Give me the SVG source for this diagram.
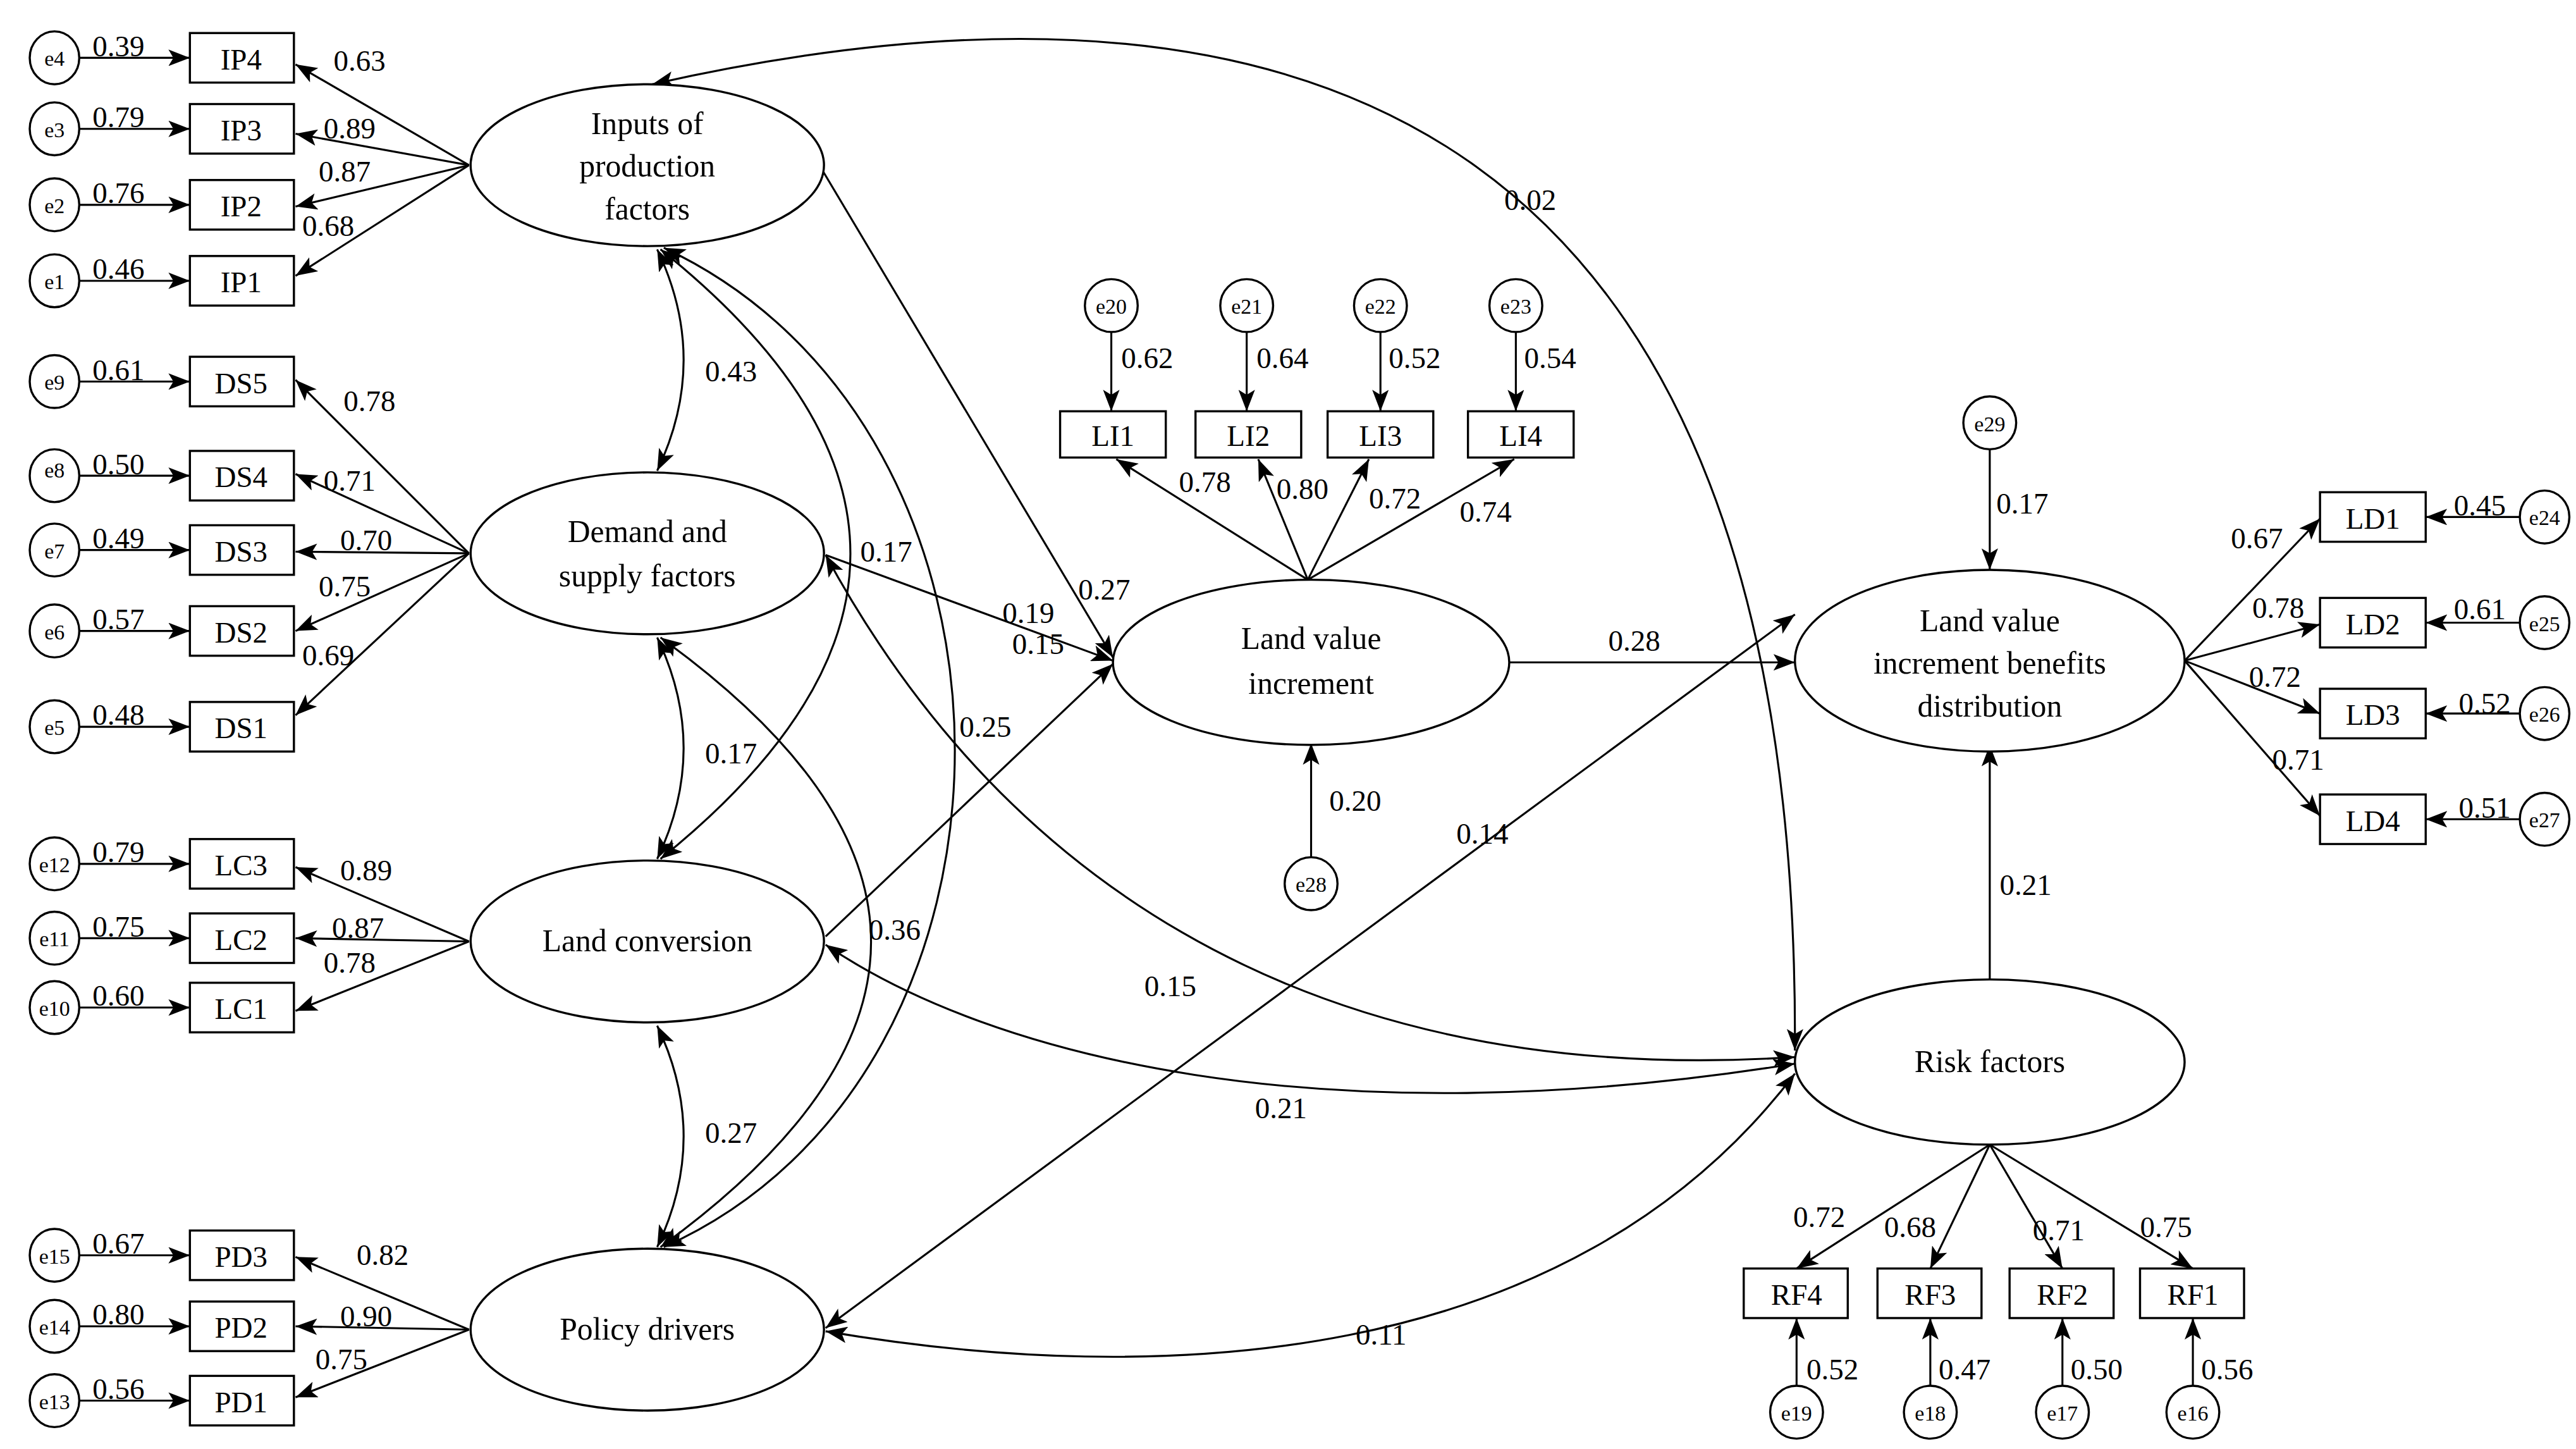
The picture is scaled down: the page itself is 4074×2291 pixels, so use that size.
<svg xmlns="http://www.w3.org/2000/svg" width="4074" height="2291" viewBox="0 0 4074 2291">
<style>
.l{fill:none;stroke:#000;stroke-width:1.2}
.a{fill:none;stroke:#000;stroke-width:1.2;marker-end:url(#ah)}
.b{fill:none;stroke:#000;stroke-width:1.2;marker-start:url(#ah);marker-end:url(#ah)}
.s{fill:#fff;stroke:#000;stroke-width:1.3}
text{font-family:"Liberation Serif","DejaVu Serif",serif;fill:#000}
.t{font-size:19px;text-anchor:middle}
.n{font-size:18px}
.m{font-size:18px;text-anchor:middle}
.e{font-size:13px;text-anchor:middle}
</style>
<defs>
<marker id="ah" markerUnits="userSpaceOnUse" markerWidth="14" markerHeight="10" refX="13" refY="5" orient="auto-start-reverse" viewBox="0 0 14 10"><path d="M0,0 L13,5 L0,10 L3,5 z" fill="#000"/></marker>
</defs>
<rect width="4074" height="2291" fill="#fff"/>
<g transform="scale(2.6115)">
<g id="connectors">
<path class="a" d="M48,35H115"/><path class="a" d="M48,78H115"/><path class="a" d="M48,124H115"/><path class="a" d="M48,170H115"/>
<path class="a" d="M48,231H115"/><path class="a" d="M48,288H115"/><path class="a" d="M48,333H115"/><path class="a" d="M48,382H115"/><path class="a" d="M48,440H115"/>
<path class="a" d="M48,523H115"/><path class="a" d="M48,568H115"/><path class="a" d="M48,610H115"/>
<path class="a" d="M48,760H115"/><path class="a" d="M48,803H115"/><path class="a" d="M48,848H115"/>
<path class="a" d="M284,100L179,39"/><path class="a" d="M284,100L179,81"/><path class="a" d="M284,100L179,125"/><path class="a" d="M284,100L179,167"/>
<path class="a" d="M284,335L179,230"/><path class="a" d="M284,335L179,287"/><path class="a" d="M284,335L179,334"/><path class="a" d="M284,335L179,382"/><path class="a" d="M284,335L179,433"/>
<path class="a" d="M284,570L179,525"/><path class="a" d="M284,570L179,568"/><path class="a" d="M284,570L179,612"/>
<path class="a" d="M284,805L179,761"/><path class="a" d="M284,805L179,803"/><path class="a" d="M284,805L179,846"/>
<path class="b" d="M398,151Q430,218 398,285"/>
<path class="b" d="M398,386Q430,453 398,520"/>
<path class="b" d="M398,621Q430,688 398,755"/>
<path class="b" d="M400,151Q630,335 400,520"/>
<path class="b" d="M400,386Q655,570 400,755"/>
<path class="b" d="M402,150C637,260 637,650 402,755"/>
<path class="b" d="M395,51C800,-40 1090,80 1087,636"/>
<path class="b" d="M500,336C600,520 780,660 1087,640"/>
<path class="b" d="M500,572C600,640 800,690 1087,644"/>
<path class="b" d="M500,806C700,840 950,830 1087,650"/>
<path class="b" d="M500,804L1087,372"/>
<path class="a" d="M498,103L674,398"/><path class="a" d="M500,336L674,400"/><path class="a" d="M500,567L674,402"/>
<path class="a" d="M914,401L1087,401"/>
<path class="a" d="M673,201V249"/><path class="a" d="M755,201V249"/><path class="a" d="M836,201V249"/><path class="a" d="M918,201V249"/>
<path class="a" d="M792,351L676,278"/><path class="a" d="M792,351L762,278"/><path class="a" d="M792,351L829,278"/><path class="a" d="M792,351L917,278"/>
<path class="a" d="M794,519V450"/>
<path class="a" d="M1205,272V345"/>
<path class="a" d="M1205,593V451"/>
<path class="a" d="M1323,400L1405,314"/><path class="a" d="M1323,400L1405,378"/><path class="a" d="M1323,400L1405,432"/><path class="a" d="M1323,400L1405,494"/>
<path class="a" d="M1526,313H1469"/><path class="a" d="M1526,377H1469"/><path class="a" d="M1526,432H1469"/><path class="a" d="M1526,496H1469"/>
<path class="a" d="M1205,693L1088,768"/><path class="a" d="M1205,693L1169,768"/><path class="a" d="M1205,693L1249,768"/><path class="a" d="M1205,693L1328,768"/>
<path class="a" d="M1088,839V798"/><path class="a" d="M1169,839V798"/><path class="a" d="M1249,839V798"/><path class="a" d="M1328,839V798"/>
</g>
<g id="labels">
<text class="n" x="56" y="34">0.39</text><text class="n" x="56" y="77">0.79</text><text class="n" x="56" y="123">0.76</text><text class="n" x="56" y="169">0.46</text>
<text class="n" x="56" y="230">0.61</text><text class="n" x="56" y="287">0.50</text><text class="n" x="56" y="332">0.49</text><text class="n" x="56" y="381">0.57</text><text class="n" x="56" y="439">0.48</text>
<text class="n" x="56" y="522">0.79</text><text class="n" x="56" y="567">0.75</text><text class="n" x="56" y="609">0.60</text>
<text class="n" x="56" y="759">0.67</text><text class="n" x="56" y="802">0.80</text><text class="n" x="56" y="847">0.56</text>
<text class="n" x="202" y="43">0.63</text><text class="n" x="196" y="84">0.89</text><text class="n" x="193" y="110">0.87</text><text class="n" x="183" y="143">0.68</text>
<text class="n" x="208" y="249">0.78</text><text class="n" x="196" y="297">0.71</text><text class="n" x="206" y="333">0.70</text><text class="n" x="193" y="361">0.75</text><text class="n" x="183" y="403">0.69</text>
<text class="n" x="206" y="533">0.89</text><text class="n" x="201" y="568">0.87</text><text class="n" x="196" y="589">0.78</text>
<text class="n" x="216" y="766">0.82</text><text class="n" x="206" y="803">0.90</text><text class="n" x="191" y="829">0.75</text>
<text class="n" x="427" y="231">0.43</text><text class="n" x="427" y="462">0.17</text><text class="n" x="427" y="692">0.27</text>
<text class="n" x="521" y="340">0.17</text><text class="n" x="581" y="446">0.25</text><text class="n" x="526" y="569">0.36</text>
<text class="n" x="607" y="377">0.19</text><text class="n" x="653" y="363">0.27</text><text class="n" x="613" y="396">0.15</text>
<text class="n" x="693" y="603">0.15</text><text class="n" x="760" y="677">0.21</text><text class="n" x="821" y="814">0.11</text>
<text class="n" x="882" y="511">0.14</text><text class="n" x="911" y="127">0.02</text><text class="n" x="974" y="394">0.28</text>
<text class="n" x="679" y="223">0.62</text><text class="n" x="761" y="223">0.64</text><text class="n" x="841" y="223">0.52</text><text class="n" x="923" y="223">0.54</text>
<text class="n" x="714" y="298">0.78</text><text class="n" x="773" y="302">0.80</text><text class="n" x="829" y="308">0.72</text><text class="n" x="884" y="316">0.74</text>
<text class="n" x="805" y="491">0.20</text><text class="n" x="1209" y="311">0.17</text><text class="n" x="1211" y="542">0.21</text>
<text class="n" x="1351" y="332">0.67</text><text class="n" x="1364" y="374">0.78</text><text class="n" x="1362" y="416">0.72</text><text class="n" x="1376" y="466">0.71</text>
<text class="n" x="1486" y="312">0.45</text><text class="n" x="1486" y="375">0.61</text><text class="n" x="1489" y="432">0.52</text><text class="n" x="1489" y="495">0.51</text>
<text class="n" x="1086" y="743">0.72</text><text class="n" x="1141" y="749">0.68</text><text class="n" x="1231" y="751">0.71</text><text class="n" x="1296" y="749">0.75</text>
<text class="n" x="1094" y="835">0.52</text><text class="n" x="1174" y="835">0.47</text><text class="n" x="1254" y="835">0.50</text><text class="n" x="1333" y="835">0.56</text>
</g>
<g id="errors">
<g id="e4"><ellipse class="s" cx="33" cy="35" rx="15" ry="16"/><text class="e" x="33" y="40">e4</text></g>
<g id="e3"><ellipse class="s" cx="33" cy="78" rx="15" ry="16"/><text class="e" x="33" y="83">e3</text></g>
<g id="e2"><ellipse class="s" cx="33" cy="124" rx="15" ry="16"/><text class="e" x="33" y="129">e2</text></g>
<g id="e1"><ellipse class="s" cx="33" cy="170" rx="15" ry="16"/><text class="e" x="33" y="175">e1</text></g>
<g id="e9"><ellipse class="s" cx="33" cy="231" rx="15" ry="16"/><text class="e" x="33" y="236">e9</text></g>
<g id="e8"><ellipse class="s" cx="33" cy="288" rx="15" ry="16"/><text class="e" x="33" y="289">e8</text></g>
<g id="e7"><ellipse class="s" cx="33" cy="333" rx="15" ry="16"/><text class="e" x="33" y="338">e7</text></g>
<g id="e6"><ellipse class="s" cx="33" cy="382" rx="15" ry="16"/><text class="e" x="33" y="387">e6</text></g>
<g id="e5"><ellipse class="s" cx="33" cy="440" rx="15" ry="16"/><text class="e" x="33" y="445">e5</text></g>
<g id="e12"><ellipse class="s" cx="33" cy="523" rx="15" ry="16"/><text class="e" x="33" y="528">e12</text></g>
<g id="e11"><ellipse class="s" cx="33" cy="568" rx="15" ry="16"/><text class="e" x="33" y="573">e11</text></g>
<g id="e10"><ellipse class="s" cx="33" cy="610" rx="15" ry="16"/><text class="e" x="33" y="615">e10</text></g>
<g id="e15"><ellipse class="s" cx="33" cy="760" rx="15" ry="16"/><text class="e" x="33" y="765">e15</text></g>
<g id="e14"><ellipse class="s" cx="33" cy="803" rx="15" ry="16"/><text class="e" x="33" y="808">e14</text></g>
<g id="e13"><ellipse class="s" cx="33" cy="848" rx="15" ry="16"/><text class="e" x="33" y="853">e13</text></g>
<g id="e20"><ellipse class="s" cx="673" cy="185" rx="16" ry="16"/><text class="e" x="673" y="190">e20</text></g>
<g id="e21"><ellipse class="s" cx="755" cy="185" rx="16" ry="16"/><text class="e" x="755" y="190">e21</text></g>
<g id="e22"><ellipse class="s" cx="836" cy="185" rx="16" ry="16"/><text class="e" x="836" y="190">e22</text></g>
<g id="e23"><ellipse class="s" cx="918" cy="185" rx="16" ry="16"/><text class="e" x="918" y="190">e23</text></g>
<g id="e28"><ellipse class="s" cx="794" cy="535" rx="16" ry="16"/><text class="e" x="794" y="540">e28</text></g>
<g id="e29"><ellipse class="s" cx="1205" cy="256" rx="16" ry="16"/><text class="e" x="1205" y="261">e29</text></g>
<g id="e24"><ellipse class="s" cx="1541" cy="313" rx="15" ry="16"/><text class="e" x="1541" y="318">e24</text></g>
<g id="e25"><ellipse class="s" cx="1541" cy="377" rx="15" ry="16"/><text class="e" x="1541" y="382">e25</text></g>
<g id="e26"><ellipse class="s" cx="1541" cy="432" rx="15" ry="16"/><text class="e" x="1541" y="437">e26</text></g>
<g id="e27"><ellipse class="s" cx="1541" cy="496" rx="15" ry="16"/><text class="e" x="1541" y="501">e27</text></g>
<g id="e19"><ellipse class="s" cx="1088" cy="855" rx="16" ry="16"/><text class="e" x="1088" y="860">e19</text></g>
<g id="e18"><ellipse class="s" cx="1169" cy="855" rx="16" ry="16"/><text class="e" x="1169" y="860">e18</text></g>
<g id="e17"><ellipse class="s" cx="1249" cy="855" rx="16" ry="16"/><text class="e" x="1249" y="860">e17</text></g>
<g id="e16"><ellipse class="s" cx="1328" cy="855" rx="16" ry="16"/><text class="e" x="1328" y="860">e16</text></g>
</g>
<g id="indicators">
<g id="IP4"><rect class="s" x="115" y="20" width="63" height="30"/><text class="m" x="146" y="42">IP4</text></g>
<g id="IP3"><rect class="s" x="115" y="63" width="63" height="30"/><text class="m" x="146" y="85">IP3</text></g>
<g id="IP2"><rect class="s" x="115" y="109" width="63" height="30"/><text class="m" x="146" y="131">IP2</text></g>
<g id="IP1"><rect class="s" x="115" y="155" width="63" height="30"/><text class="m" x="146" y="177">IP1</text></g>
<g id="DS5"><rect class="s" x="115" y="216" width="63" height="30"/><text class="m" x="146" y="238">DS5</text></g>
<g id="DS4"><rect class="s" x="115" y="273" width="63" height="30"/><text class="m" x="146" y="295">DS4</text></g>
<g id="DS3"><rect class="s" x="115" y="318" width="63" height="30"/><text class="m" x="146" y="340">DS3</text></g>
<g id="DS2"><rect class="s" x="115" y="367" width="63" height="30"/><text class="m" x="146" y="389">DS2</text></g>
<g id="DS1"><rect class="s" x="115" y="425" width="63" height="30"/><text class="m" x="146" y="447">DS1</text></g>
<g id="LC3"><rect class="s" x="115" y="508" width="63" height="30"/><text class="m" x="146" y="530">LC3</text></g>
<g id="LC2"><rect class="s" x="115" y="553" width="63" height="30"/><text class="m" x="146" y="575">LC2</text></g>
<g id="LC1"><rect class="s" x="115" y="595" width="63" height="30"/><text class="m" x="146" y="617">LC1</text></g>
<g id="PD3"><rect class="s" x="115" y="745" width="63" height="30"/><text class="m" x="146" y="767">PD3</text></g>
<g id="PD2"><rect class="s" x="115" y="788" width="63" height="30"/><text class="m" x="146" y="810">PD2</text></g>
<g id="PD1"><rect class="s" x="115" y="833" width="63" height="30"/><text class="m" x="146" y="855">PD1</text></g>
<g id="LI1"><rect class="s" x="642" y="249" width="64" height="28"/><text class="m" x="674" y="270">LI1</text></g>
<g id="LI2"><rect class="s" x="724" y="249" width="64" height="28"/><text class="m" x="756" y="270">LI2</text></g>
<g id="LI3"><rect class="s" x="804" y="249" width="64" height="28"/><text class="m" x="836" y="270">LI3</text></g>
<g id="LI4"><rect class="s" x="889" y="249" width="64" height="28"/><text class="m" x="921" y="270">LI4</text></g>
<g id="LD1"><rect class="s" x="1405" y="298" width="64" height="30"/><text class="m" x="1437" y="320">LD1</text></g>
<g id="LD2"><rect class="s" x="1405" y="362" width="64" height="30"/><text class="m" x="1437" y="384">LD2</text></g>
<g id="LD3"><rect class="s" x="1405" y="417" width="64" height="30"/><text class="m" x="1437" y="439">LD3</text></g>
<g id="LD4"><rect class="s" x="1405" y="481" width="64" height="30"/><text class="m" x="1437" y="503">LD4</text></g>
<g id="RF4"><rect class="s" x="1056" y="768" width="63" height="30"/><text class="m" x="1088" y="790">RF4</text></g>
<g id="RF3"><rect class="s" x="1137" y="768" width="63" height="30"/><text class="m" x="1169" y="790">RF3</text></g>
<g id="RF2"><rect class="s" x="1217" y="768" width="63" height="30"/><text class="m" x="1249" y="790">RF2</text></g>
<g id="RF1"><rect class="s" x="1296" y="768" width="63" height="30"/><text class="m" x="1328" y="790">RF1</text></g>
</g>
<g id="latents">
<g id="inputs"><ellipse class="s" cx="392" cy="100" rx="107" ry="49"/><text class="t" x="392" y="81">Inputs of</text><text class="t" x="392" y="107">production</text><text class="t" x="392" y="133">factors</text></g>
<g id="demand"><ellipse class="s" cx="392" cy="335" rx="107" ry="49"/><text class="t" x="392" y="328">Demand and</text><text class="t" x="392" y="355">supply factors</text></g>
<g id="landconv"><ellipse class="s" cx="392" cy="570" rx="107" ry="49"/><text class="t" x="392" y="576">Land conversion</text></g>
<g id="policy"><ellipse class="s" cx="392" cy="805" rx="107" ry="49"/><text class="t" x="392" y="811">Policy drivers</text></g>
<g id="lvi"><ellipse class="s" cx="794" cy="401" rx="120" ry="50"/><text class="t" x="794" y="393">Land value</text><text class="t" x="794" y="420">increment</text></g>
<g id="lvibd"><ellipse class="s" cx="1205" cy="400" rx="118" ry="55"/><text class="t" x="1205" y="382">Land value</text><text class="t" x="1205" y="408">increment benefits</text><text class="t" x="1205" y="434">distribution</text></g>
<g id="risk"><ellipse class="s" cx="1205" cy="643" rx="118" ry="50"/><text class="t" x="1205" y="649">Risk factors</text></g>
</g>
</g>
</svg>
